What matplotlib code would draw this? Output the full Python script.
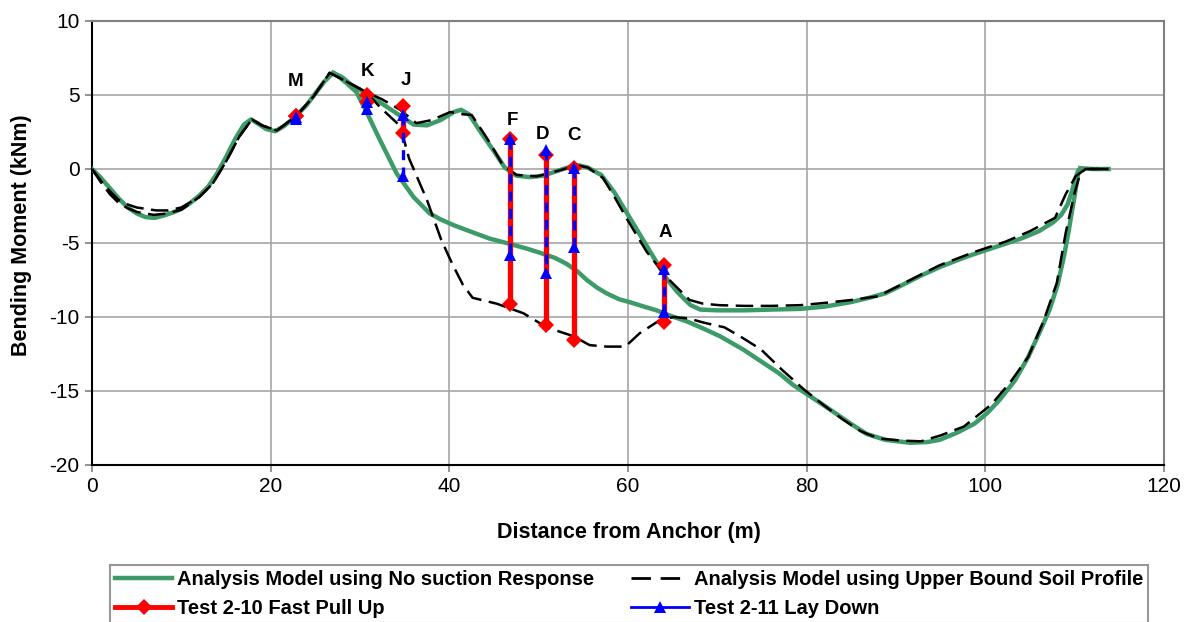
import numpy as np
import matplotlib
matplotlib.use("Agg")
import matplotlib.pyplot as plt
from matplotlib.lines import Line2D

plt.rcParams['font.family'] = ['Liberation Sans', 'DejaVu Sans']
plt.rcParams['axes.unicode_minus'] = False

# ---------------- data ----------------
# Analysis Model using No suction Response (envelope: upper and lower branches)
ns_upper_x = [0, 1, 2, 3, 4, 5, 6, 7, 8, 9, 10, 11, 12, 13, 14, 15, 16, 17, 17.8, 18.5, 19.5, 20.5,
              21.5, 22.7, 24, 25, 26, 27, 28, 29, 30.7, 32.5, 34.5, 36, 37.5, 39, 40.5, 41.3, 42.2,
              43.5, 45, 46.2, 47.5, 49, 50.5, 52, 53.5, 54.5, 55.5, 57, 58.5, 60.1, 61.5, 62.9, 64.3,
              65.5, 67, 68.1, 70, 73, 76, 79.3, 82, 84.9, 87, 88.8, 90.5, 92.8, 95, 98, 100, 102, 104,
              106, 107.6, 108.5, 109.2, 109.7, 110, 110.4, 110.8, 112, 113.8]
ns_upper_y = [0, -0.6, -1.3, -2.0, -2.6, -3.0, -3.25, -3.3, -3.15, -2.95, -2.7, -2.3, -1.8, -1.2,
              -0.3, 0.8, 2.0, 3.0, 3.35, 3.1, 2.7, 2.55, 2.9, 3.5, 4.3, 5.1, 5.9, 6.5, 6.2, 5.7, 5.1,
              4.4, 3.6, 3.0, 2.95, 3.3, 3.85, 4.0, 3.7, 2.5, 1.2, 0.1, -0.45, -0.55, -0.45, -0.15, 0.15,
              0.25, 0.1, -0.4, -1.6, -3.2, -4.6, -6.0, -7.4, -8.3, -9.2, -9.5, -9.55, -9.55, -9.5,
              -9.45, -9.3, -9.0, -8.7, -8.4, -7.9, -7.2, -6.6, -5.9, -5.5, -5.1, -4.7, -4.2, -3.6,
              -3.1, -2.4, -1.5, -0.8, -0.1, 0.05, 0, 0]
ns_lower_x = [27, 27.5, 28.5, 29.6, 30.7, 32.2, 34.1, 36, 37.8, 39, 40.5, 42.7, 44.5, 46.4, 48.5,
              50.1, 51.8, 53.1, 54.3, 55.4, 56.5, 57.6, 59, 60.2, 61.8, 63.2, 64.9, 66.6, 68.5, 70.3,
              72.9, 74.9, 76.9, 78.5, 80, 82, 84.9, 86.7, 88.8, 91.6, 93.5, 94.9, 96.9, 98.8, 100.2,
              101.6, 103.3, 104.8, 106.1, 107.2, 108.1, 108.8, 109.3, 109.6, 110, 110.2, 110.4, 110.6]
ns_lower_y = [6.5, 6.3, 5.8, 5.2, 3.9, 2.0, -0.3, -1.9, -3.0, -3.4, -3.8, -4.3, -4.7, -5.0, -5.35,
              -5.65, -6.0, -6.4, -6.9, -7.5, -8.0, -8.4, -8.8, -9.0, -9.3, -9.55, -9.95, -10.3, -10.8,
              -11.3, -12.2, -13.0, -13.8, -14.6, -15.2, -16.0, -17.2, -17.9, -18.3, -18.5, -18.45,
              -18.3, -17.8, -17.2, -16.5, -15.6, -14.3, -12.7, -11.0, -9.5, -7.8, -5.9, -4.3, -3.2,
              -1.8, -1.0, -0.3, 0.05]

# Analysis Model using Upper Bound Soil Profile (envelope: upper and lower branches)
ub_upper_x = [0, 1, 2, 3, 4, 5, 7.2, 8.5, 10, 12, 13.5, 15, 16.5, 17.9, 19, 20.7, 22.9, 24.8, 26.6,
              28.5, 30.7, 32.5, 34.5, 36.3, 38, 40.1, 41.5, 42.5, 44.3, 46, 47.5, 49.8, 52, 54.3,
              55.5, 57.2, 58.5, 59.9, 62.1, 64.3, 66.9, 68.4, 70.2, 73, 76, 79.3, 82, 85, 88, 91.6,
              94.9, 98.8, 102.3, 105, 107.8, 109, 110.1, 111.2, 113.8]
ub_upper_y = [0, -0.8, -1.5, -2.1, -2.4, -2.6, -2.8, -2.8, -2.6, -1.9, -1.0, 0.5, 2.2, 3.35, 2.95,
              2.6, 3.6, 4.9, 6.5, 5.9, 5.2, 4.7, 4.0, 3.1, 3.3, 3.85, 3.7, 3.65, 2.0, 0.25, -0.4,
              -0.5, -0.15, 0.25, 0.1, -0.6, -1.9, -3.4, -5.6, -7.3, -8.85, -9.1, -9.2, -9.25, -9.25,
              -9.2, -9.05, -8.85, -8.6, -7.5, -6.5, -5.6, -4.9, -4.2, -3.3, -1.7, -0.5, 0, 0]
ub_lower_x = [0, 1, 2, 3, 4, 5, 6.9, 8.5, 10, 12, 13.5, 15, 16.5, 17.9, 19, 20.7, 22.9, 24.8, 26.6,
              28.5, 30.7, 32.2, 34.5, 35.5, 37.5, 39.1, 40.4, 41.5, 42.6, 45.3, 48.3, 50.9, 53.9,
              55.7, 57.6, 59.7, 61.3, 63.6, 65.1, 66.8, 68.6, 70.8, 72.8, 74.9, 77.3, 79.7, 82, 84,
              86, 88, 90.5, 92.8, 95, 97.6, 100.7, 102.8, 104.8, 106.5, 108, 109, 110, 110.6, 111.2,
              113.8]
ub_lower_y = [0, -0.9, -1.7, -2.3, -2.65, -2.9, -3.1, -3.0, -2.75, -1.9, -1.0, 0.5, 2.2, 3.35, 2.95,
              2.6, 3.6, 4.9, 6.5, 5.9, 5.2, 4.2, 2.9, 0.7, -2.1, -4.8, -6.5, -7.8, -8.7, -9.1, -9.75,
              -10.7, -11.3, -11.9, -12.0, -12.0, -11.1, -10.2, -10.0, -10.1, -10.4, -10.7, -11.4,
              -12.2, -13.6, -14.9, -16.0, -16.9, -17.7, -18.2, -18.35, -18.4, -18.0, -17.4, -15.9,
              -14.4, -12.7, -10.3, -7.7, -4.3, -1.6, -0.35, 0, 0]

# Measured test points (max / min at each gauge location)
test_labels = ['M', 'K', 'J', 'F', 'D', 'C', 'A']
test_x = [22.8, 30.8, 34.8, 46.8, 50.8, 53.9, 64.0]
fast_max = [3.6, 5.0, 4.25, 2.05, 0.95, 0.05, -6.5]
fast_min = [3.55, 4.5, 2.4, -9.1, -10.55, -11.55, -10.35]
lay_max = [3.5, 4.5, 3.65, 2.0, 1.3, 0.05, -6.75]
lay_min = [3.4, 4.05, -0.5, -5.8, -7.05, -5.25, -9.65]

x_ticks = [0, 20, 40, 60, 80, 100, 120]
y_ticks = [-20, -15, -10, -5, 0, 5, 10]

series_names = ['Analysis Model using No suction Response',
                'Analysis Model using Upper Bound Soil Profile',
                'Test 2-10 Fast Pull Up',
                'Test 2-11 Lay Down']

# label offsets (pixels) from the top test point - layout only
label_offsets = [(0, 34), (0, 23), (3, 26), (2, 18), (-3, 15), (0, 33), (2, 33)]

# ---------------- styling ----------------
GREEN = '#3d9b68'
RED = '#ff0000'
BLUE = '#0000ff'
W, H = 1190, 622

fig = plt.figure(figsize=(W / 100, H / 100), dpi=100)
ax = fig.add_axes([92 / W, 1 - 465 / H, 1072 / W, 444 / H])

ax.plot(ns_upper_x, ns_upper_y, color=GREEN, lw=3.2, solid_joinstyle='round', zorder=3)
ax.plot(ns_lower_x, ns_lower_y, color=GREEN, lw=3.2, solid_joinstyle='round', zorder=3)
ax.plot(ub_upper_x, ub_upper_y, color='black', lw=1.8, dashes=(7, 3), zorder=4)
ax.plot(ub_lower_x, ub_lower_y, color='black', lw=1.8, dashes=(7, 3), zorder=4)


def pairs(xs, a, b):
    xx, yy = [], []
    for x, p, q in zip(xs, a, b):
        xx += [x, x, np.nan]
        yy += [p, q, np.nan]
    return xx, yy


fx, fy = pairs(test_x, fast_max, fast_min)
lx, ly = pairs(test_x, lay_max, lay_min)
ax.plot(fx, fy, color=RED, lw=3.8, marker='D', markersize=8, markeredgewidth=0, zorder=5)
ax.plot(lx, ly, color=BLUE, lw=2.4, dashes=(3, 2.2), zorder=6)
ax.plot(lx, ly, color=BLUE, lw=0, marker='^', markersize=8.5, markeredgewidth=0, zorder=7)

for lab, x, a, b, off in zip(test_labels, test_x, fast_max, lay_max, label_offsets):
    ax.annotate(lab, xy=(x, max(a, b)), xytext=off, textcoords='offset pixels',
                ha='center', va='center', fontsize=13.5, fontweight='bold', zorder=8)

ax.set_xlim(0, 120)
ax.set_ylim(-20, 10)
ax.set_xticks(x_ticks)
ax.set_yticks(y_ticks)
ax.grid(True, color='#a6a6a6', lw=1.2)
ax.set_axisbelow(True)
for s in ['left', 'bottom']:
    ax.spines[s].set_color('black')
    ax.spines[s].set_linewidth(1.5)
for s in ['top', 'right']:
    ax.spines[s].set_color('#7f7f7f')
    ax.spines[s].set_linewidth(1.5)
ax.tick_params(direction='out', length=5, width=1.2, color='#7f7f7f', labelsize=15, pad=4)

ax.set_xlabel('Distance from Anchor (m)', fontsize=15.5, fontweight='bold')
ax.xaxis.set_label_coords(0.501, -0.153)
ax.xaxis.label.set_va('center')
ax.set_ylabel('Bending Moment (kNm)', fontsize=15.5, fontweight='bold')
ax.yaxis.set_label_coords(-0.0653, 0.518)
ax.yaxis.label.set_va('center')

h_green = Line2D([], [], color=GREEN, lw=3.2)
h_black = Line2D([], [], color='black', lw=2.0, dashes=(7, 3.5))
h_red = Line2D([], [], color=RED, lw=3.5, marker='D', markersize=8, markeredgewidth=0)
h_blue = Line2D([], [], color=BLUE, lw=2.0, marker='^', markersize=8.5, markeredgewidth=0)
# column-wise fill: col 1 = green, red ; col 2 = black, blue
handles = [h_green, h_red, h_black, h_blue]
labels = [series_names[0], series_names[2], series_names[1], series_names[3]]
leg = fig.legend(handles, labels, ncol=2, loc='upper left',
                 bbox_to_anchor=(110 / W, 1 - 565 / H, (1148 - 110) / W, 0),
                 mode='expand', borderaxespad=0, borderpad=0.25, labelspacing=0.5,
                 handlelength=2.85, handletextpad=0.25, numpoints=1, fancybox=False,
                 prop={'size': 14.5, 'weight': 'bold'}, columnspacing=1.0)
leg.get_frame().set_edgecolor('#7f7f7f')
leg.get_frame().set_linewidth(1.5)

fig.savefig('out.png', dpi=100)
